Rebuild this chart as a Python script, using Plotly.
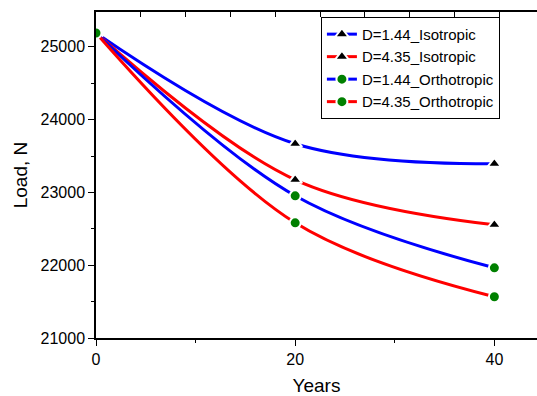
import plotly.graph_objects as go

years = [0, 20, 40]
iso_144 = [25190, 23668, 23393]
iso_435 = [25190, 23173, 22555]
ortho_144 = [25190, 22953, 21964]
ortho_435 = [25190, 22582, 21566]

names = ["D=1.44_Isotropic", "D=4.35_Isotropic", "D=1.44_Orthotropic", "D=4.35_Orthotropic"]
series = [iso_144, iso_435, ortho_144, ortho_435]
line_colors = ["#0000FF", "#FF0000", "#0000FF", "#FF0000"]
marker_symbols = ["triangle-up", "triangle-up", "circle", "circle"]
marker_colors = ["#000000", "#000000", "#008000", "#008000"]
marker_sizes = [12, 12, 11, 11]

fig = go.Figure()
for name, ys, lc, ms, mc, sz in zip(names, series, line_colors, marker_symbols, marker_colors, marker_sizes):
    fig.add_trace(go.Scatter(
        x=years, y=ys, name=name, mode="lines+markers",
        line=dict(color=lc, width=3, shape="spline", smoothing=1.0),
        marker=dict(symbol=ms, color=mc, size=sz, line=dict(color="white", width=2)),
    ))

# secondary top axis with inward ticks
fig.add_trace(go.Scatter(x=[None], y=[None], xaxis="x2", showlegend=False, hoverinfo="skip"))

font = "Liberation Sans, Arial, sans-serif"
fig.update_layout(
    width=537, height=396,
    margin=dict(l=96, r=0, t=12, b=58),
    paper_bgcolor="white", plot_bgcolor="white",
    font=dict(family=font, size=16, color="#000000"),
    showlegend=True,
    legend=dict(
        x=0.51, y=0.985, xanchor="left", yanchor="top",
        bordercolor="#000000", borderwidth=1, bgcolor="white",
        font=dict(size=15), itemwidth=30, tracegroupgap=0,
    ),
    xaxis=dict(
        range=[0, 44.28], tickvals=[0, 20, 40],
        ticks="outside", ticklen=6, tickwidth=1, tickcolor="#000",
        minor=dict(tickvals=[10, 30], ticks="outside", ticklen=3, tickcolor="#000"),
        showline=True, linecolor="#000", linewidth=1.5, showgrid=False, zeroline=False,
        title=dict(text="Years", font=dict(size=19), standoff=12),
        tickfont=dict(size=16),
    ),
    xaxis2=dict(
        overlaying="x", side="top", range=[0, 44.28],
        tickvals=[4.5, 9, 13.5, 18, 22.5, 27, 31.5, 36, 40.5],
        ticks="inside", ticklen=5, tickcolor="#000", showticklabels=False,
        showline=True, linecolor="#000", linewidth=1.5, showgrid=False, zeroline=False,
    ),
    yaxis=dict(
        range=[21000, 25478], tickvals=[21000, 22000, 23000, 24000, 25000],
        tickformat="d",
        ticks="outside", ticklen=6, tickwidth=1, tickcolor="#000",
        minor=dict(tickvals=[21500, 22500, 23500, 24500], ticks="outside", ticklen=3, tickcolor="#000"),
        showline=True, linecolor="#000", linewidth=1.5, showgrid=False, zeroline=False,
        title=dict(text="Load, N", font=dict(size=19), standoff=8),
        tickfont=dict(size=16),
    ),
)

fig.write_html("out.html")
